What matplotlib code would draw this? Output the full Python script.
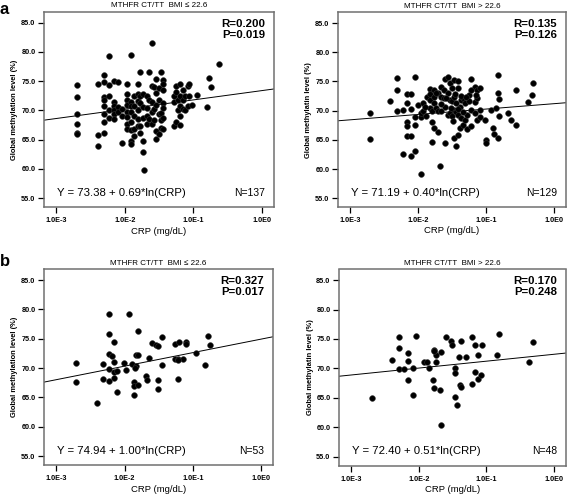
import matplotlib
matplotlib.use("Agg")
import matplotlib.pyplot as plt
import numpy as np

plt.rcParams['font.family'] = ['Liberation Sans', 'DejaVu Sans']

# ---------------- data ----------------
# Panel a, BMI <= 22.6
crp_a_low = [0.0020, 0.0020, 0.0020, 0.0020, 0.0020, 0.0020,
             0.0040, 0.0040, 0.0040,
             0.0050, 0.0050, 0.0050, 0.0050, 0.0050, 0.0050, 0.0050, 0.0050,
             0.0059, 0.0059, 0.0059, 0.0059, 0.0059,
             0.0070, 0.0070, 0.0070, 0.0070, 0.0070, 0.0070,
             0.0080, 0.0080, 0.0080,
             0.0090, 0.0090, 0.0090,
             0.0106, 0.0106, 0.0106, 0.0106, 0.0106, 0.0106, 0.0106, 0.0106,
             0.0121, 0.0121, 0.0121, 0.0121, 0.0121, 0.0121, 0.0121, 0.0121,
             0.0138, 0.0138, 0.0138, 0.0138, 0.0138,
             0.0153, 0.0153, 0.0153, 0.0153, 0.0153, 0.0153,
             0.0166, 0.0166, 0.0166, 0.0166, 0.0166,
             0.0182, 0.0182, 0.0182, 0.0182, 0.0182,
             0.0190,
             0.0207, 0.0207, 0.0207, 0.0207,
             0.0222, 0.0222, 0.0222,
             0.0251, 0.0251, 0.0251, 0.0251, 0.0251,
             0.0268, 0.0268, 0.0268,
             0.0284, 0.0284, 0.0284, 0.0284, 0.0284,
             0.0318, 0.0318, 0.0318, 0.0318,
             0.0340, 0.0340, 0.0340, 0.0340,
             0.0364, 0.0364, 0.0364, 0.0364, 0.0364, 0.0364, 0.0364,
             0.0521, 0.0521, 0.0521,
             0.0551, 0.0551, 0.0551,
             0.0590, 0.0590,
             0.0638, 0.0638, 0.0638, 0.0638, 0.0638,
             0.0698, 0.0698, 0.0698,
             0.0755, 0.0755,
             0.0826, 0.0826,
             0.0873, 0.0873,
             0.0946, 0.112, 0.157, 0.168, 0.183, 0.232]
meth_a_low = [74.4, 72.3, 69.3, 67.6, 66.1, 65.9,
              74.5, 65.8, 64.0,
              76.0, 74.8, 72.3, 71.7, 70.8, 69.4, 68.1, 66.1,
              79.3, 74.3, 72.4, 70.0, 68.7,
              75.0, 71.5, 70.8, 70.1, 69.3, 68.6,
              74.9, 70.5, 69.7,
              70.3, 69.0, 64.4,
              74.5, 72.8, 71.8, 71.0, 69.7, 68.9, 67.7, 66.8,
              79.4, 71.4, 70.7, 69.8, 68.0, 66.6, 64.8, 64.3,
              72.4, 70.7, 69.1, 66.8, 65.6,
              74.5, 72.8, 71.6, 70.1, 68.5, 67.3,
              76.5, 72.4, 71.3, 67.4, 66.2,
              72.8, 70.6, 68.7, 64.7, 62.9,
              59.8,
              72.4, 70.4, 69.0, 67.7,
              76.5, 71.8, 68.6,
              81.5, 74.2, 71.4, 69.8, 67.6,
              74.0, 70.2, 68.4,
              75.4, 72.9, 71.0, 66.4, 65.1,
              73.8, 71.8, 69.3, 65.9,
              76.5, 69.5, 68.4, 67.0,
              75.2, 74.5, 73.5, 71.3, 70.4, 68.7, 66.8,
              72.4, 71.5, 67.3,
              74.2, 73.2, 68.0,
              71.8, 70.1,
              74.5, 72.5, 70.8, 69.1, 67.5,
              73.5, 71.8, 70.3,
              72.4, 70.1,
              74.2, 70.7,
              74.5, 72.5,
              71.0, 72.7, 70.5, 75.6, 74.0, 78.0]

# Panel a, BMI > 22.6
crp_a_high = [0.00196, 0.00196, 0.00385, 0.00482, 0.00482, 0.00482,
              0.0059, 0.0059,
              0.00675, 0.00675, 0.00675, 0.00675, 0.00675,
              0.00773, 0.00773, 0.00773, 0.00773,
              0.00894, 0.00894, 0.00894, 0.00894,
              0.0100, 0.0109, 0.0109, 0.0109, 0.0118, 0.0118, 0.0129, 0.0137,
              0.0148, 0.0148, 0.0148, 0.0148,
              0.0162, 0.0162, 0.0162,
              0.0169, 0.0169, 0.0169, 0.0169,
              0.0181, 0.0196, 0.0196, 0.0196, 0.0208,
              0.0219, 0.0219, 0.0219, 0.0237, 0.0237,
              0.0251, 0.0251, 0.0251, 0.0275, 0.0275, 0.0275,
              0.0290, 0.0290, 0.0290, 0.0315, 0.0315, 0.0315,
              0.0333, 0.0333, 0.0333, 0.0333,
              0.0364, 0.0364, 0.0364,
              0.0385, 0.0385, 0.0385, 0.0385,
              0.0407, 0.0407, 0.0431, 0.0431, 0.0456, 0.0456,
              0.0493, 0.0493, 0.0527, 0.0527, 0.0557, 0.0557,
              0.0603, 0.0603, 0.0603, 0.0675, 0.0675, 0.0675,
              0.0730, 0.0730, 0.0730, 0.0816, 0.0816, 0.0816,
              0.0946, 0.100, 0.100, 0.118, 0.128, 0.132, 0.140,
              0.148, 0.148, 0.148, 0.157, 0.157,
              0.207, 0.232, 0.275, 0.275, 0.407, 0.466, 0.493,
              0.030, 0.035, 0.042, 0.038, 0.026, 0.022, 0.045,
              0.033, 0.018, 0.050, 0.060, 0.070, 0.0125]
meth_a_high = [69.6, 65.2, 71.6, 75.6, 73.6, 70.0,
               70.1, 62.6,
               72.9, 71.3, 68.1, 67.4, 65.6,
               72.8, 70.3, 65.6, 62.3,
               75.7, 68.9, 67.6, 63.1,
               70.9, 59.1, 68.9, 69.6, 71.3, 70.0, 69.1, 72.3,
               73.7, 72.9, 71.9, 70.4,
               68.1, 64.7, 69.9,
               73.5, 72.4, 71.3, 67.0,
               70.4, 73.0, 66.4, 69.9, 60.5,
               74.0, 72.3, 70.0, 73.5, 72.1,
               75.5, 70.7, 64.4, 75.8, 73.0, 69.3,
               74.8, 71.9, 69.6, 73.9, 71.6, 69.0,
               75.3, 72.3, 70.1, 65.3,
               71.3, 69.7, 63.9,
               75.0, 73.9, 69.3, 65.9,
               70.7, 67.0, 71.9, 68.7, 72.1, 67.6,
               71.3, 68.4, 66.8, 69.3, 72.7, 71.6,
               75.4, 67.4, 70.1, 74.0, 71.4, 69.6,
               73.5, 72.1, 68.4, 68.9, 73.9, 70.1,
               68.4, 65.0, 64.5, 70.1, 67.0, 66.0, 70.4,
               65.3, 73.1, 76.1, 72.0, 69.1,
               69.6, 68.4, 73.6, 67.6, 71.4, 72.7, 74.7,
               70.5, 72.8, 72.5, 70.2, 72.2, 71.2, 69.8,
               68.3, 73.1, 72.3, 73.6, 72.7, 70.6]

# Panel b, BMI <= 22.6
crp_b_low = [0.00197, 0.00197, 0.0039, 0.00486, 0.00486,
             0.00583, 0.00583, 0.00583, 0.00583, 0.00583,
             0.0069, 0.0069, 0.0069, 0.0069, 0.0077, 0.0077,
             0.0097, 0.0105, 0.0117, 0.0127,
             0.0136, 0.0136, 0.0136, 0.0145, 0.0145,
             0.0156, 0.0156, 0.0156, 0.0207, 0.0212, 0.0227, 0.0254,
             0.029, 0.031, 0.0307, 0.0307, 0.0348, 0.0348,
             0.054, 0.054, 0.0605, 0.062, 0.061, 0.0718, 0.0804, 0.0804,
             0.113, 0.150, 0.168, 0.181,
             0.0066, 0.0140, 0.060]
meth_b_low = [70.8, 67.7, 64.1, 70.7, 68.1,
              79.2, 75.8, 72.4, 69.9, 67.8,
              74.4, 71.0, 69.3, 68.4, 65.9, 69.5,
              70.9, 69.6, 79.3, 70.7,
              67.6, 66.9, 65.4, 72.3, 70.3,
              76.4, 72.3, 67.1, 68.6, 68.0, 71.7, 74.3,
              74.0, 73.7, 67.9, 66.4, 70.5, 75.3,
              74.1, 71.5, 71.5, 74.4, 68.1, 71.6, 74.4, 74.1,
              72.6, 70.5, 75.5, 74.0,
              72.0, 70.1, 71.4]

# Panel b, BMI > 22.6
crp_b_high = [0.00203, 0.0040, 0.00504, 0.00504, 0.00504, 0.00603,
              0.0069, 0.0069, 0.0069, 0.00807, 0.00807, 0.00904,
              0.0121, 0.0132, 0.0140, 0.0162, 0.0169, 0.0169,
              0.0181, 0.0181, 0.0203, 0.0212, 0.0212, 0.0251,
              0.0301, 0.0311, 0.0340, 0.0340, 0.0348, 0.0372,
              0.0398, 0.0407, 0.0417, 0.0426, 0.0499,
              0.0610, 0.0610, 0.0682, 0.0682, 0.0755, 0.0755,
              0.0845, 0.0826, 0.151, 0.145, 0.421, 0.493, 0.0165]
meth_b_high = [65.0, 71.4, 75.4, 73.4, 69.9, 69.9,
               72.6, 71.3, 68.1, 70.0, 65.4, 75.5,
               71.0, 71.0, 70.0, 68.0, 73.1, 66.6,
               72.2, 71.0, 66.4, 72.7, 60.4, 75.3,
               74.6, 74.0, 70.0, 65.1, 69.2, 63.8,
               72.0, 67.2, 66.8, 74.7, 72.0,
               75.3, 67.3, 73.9, 69.4, 72.3, 68.2,
               73.9, 68.9, 75.8, 72.2, 71.1, 74.4, 72.9]

titles = ["MTHFR CT/TT  BMI \u2264 22.6", "MTHFR CT/TT  BMI > 22.6",
          "MTHFR CT/TT  BMI \u2264 22.6", "MTHFR CT/TT  BMI > 22.6"]
ylabels = ["Global methylation level (%)", "Global methylatin level (%)",
           "Global methylation level (%)", "Global methylatin level (%)"]
intercepts = [73.38, 71.19, 74.94, 72.40]
slopes = [0.69, 0.40, 1.00, 0.51]
r_vals = ["0.200", "0.135", "0.327", "0.170"]
p_vals = ["0.019", "0.126", "0.017", "0.248"]
n_vals = [137, 129, 53, 48]
x_ticks = [1e-3, 1e-2, 1e-1, 1e0]
x_ticklabels = ["1.0E-3", "1.0E-2", "1.0E-1", "1.0E0"]
y_ticks = [55, 60, 65, 70, 75, 80, 85]

datasets = [(crp_a_low, meth_a_low), (crp_a_high, meth_a_high),
            (crp_b_low, meth_b_low), (crp_b_high, meth_b_high)]

# ---------------- figure ----------------
W, H = 567, 494
fig = plt.figure(figsize=(W / 100, H / 100), dpi=100)

def px_axes(l, t, r, b):
    return fig.add_axes([l / W, 1 - b / H, (r - l) / W, (b - t) / H])

boxes = [(44, 12, 274, 207), (338, 12.5, 566, 207),
         (44, 269.5, 273, 465), (339, 269.5, 566, 465.5)]

xmin, xmax = 10 ** -3.18, 10 ** 0.175
for i, box in enumerate(boxes):
    ax = px_axes(*box)
    crp, meth = datasets[i]
    ax.set_xscale('log')
    ax.set_xlim(xmin, xmax)
    ax.set_ylim(53.5, 86.8)
    ax.scatter(crp, meth, s=17, color='black', edgecolors='#333333',
               linewidths=0.4, zorder=3)
    xl = np.array([xmin, xmax])
    ax.plot(xl, intercepts[i] + slopes[i] * np.log(xl), color='black',
            lw=0.7, zorder=2)

    ax.set_xticks(x_ticks)
    ax.set_xticklabels(x_ticklabels)
    ax.xaxis.set_minor_locator(matplotlib.ticker.NullLocator())
    ax.set_yticks(y_ticks)
    ax.set_yticklabels([f"{v:.1f}" for v in y_ticks])
    ax.tick_params(axis='both', direction='out', length=4, width=0.9,
                   labelsize=5.2, color='black')
    ax.tick_params(axis='x', pad=3.5)
    ax.tick_params(axis='y', pad=2.2)
    for lab in ax.get_xticklabels() + ax.get_yticklabels():
        lab.set_fontweight('bold')

    for side in ['left', 'bottom', 'top', 'right']:
        ax.spines[side].set_color('#707070')
        ax.spines[side].set_linewidth(1.1)

    ax.set_title(titles[i], fontsize=5.8, pad=3.5)
    ax.set_ylabel(ylabels[i], fontsize=5.4, fontweight='bold')
    ax.yaxis.set_label_coords(-0.112, 0.5)
    ax.set_xlabel("CRP (mg/dL)", fontsize=6.8)
    ax.xaxis.set_label_coords(0.5, -0.1)

    ax.text(0.962, 0.965, f"R={r_vals[i]}\nP={p_vals[i]}", transform=ax.transAxes,
            ha='right', va='top', fontsize=8.2, fontweight='bold',
            linespacing=1.1)
    ax.text(0.056, 0.072, f"Y = {intercepts[i]:.2f} + {slopes[i]:.2f}*ln(CRP)",
            transform=ax.transAxes, ha='left', va='center', fontsize=8.2)
    ax.text(0.962, 0.072, f"N={n_vals[i]}", transform=ax.transAxes,
            ha='right', va='center', fontsize=7.5)

fig.text(0.0, 1 - 13.5 / H, "a", fontsize=12, fontweight='bold',
         ha='left', va='baseline')
fig.text(0.0, 1 - 265.5 / H, "b", fontsize=12, fontweight='bold',
         ha='left', va='baseline')

fig.savefig("out.png", dpi=100)
